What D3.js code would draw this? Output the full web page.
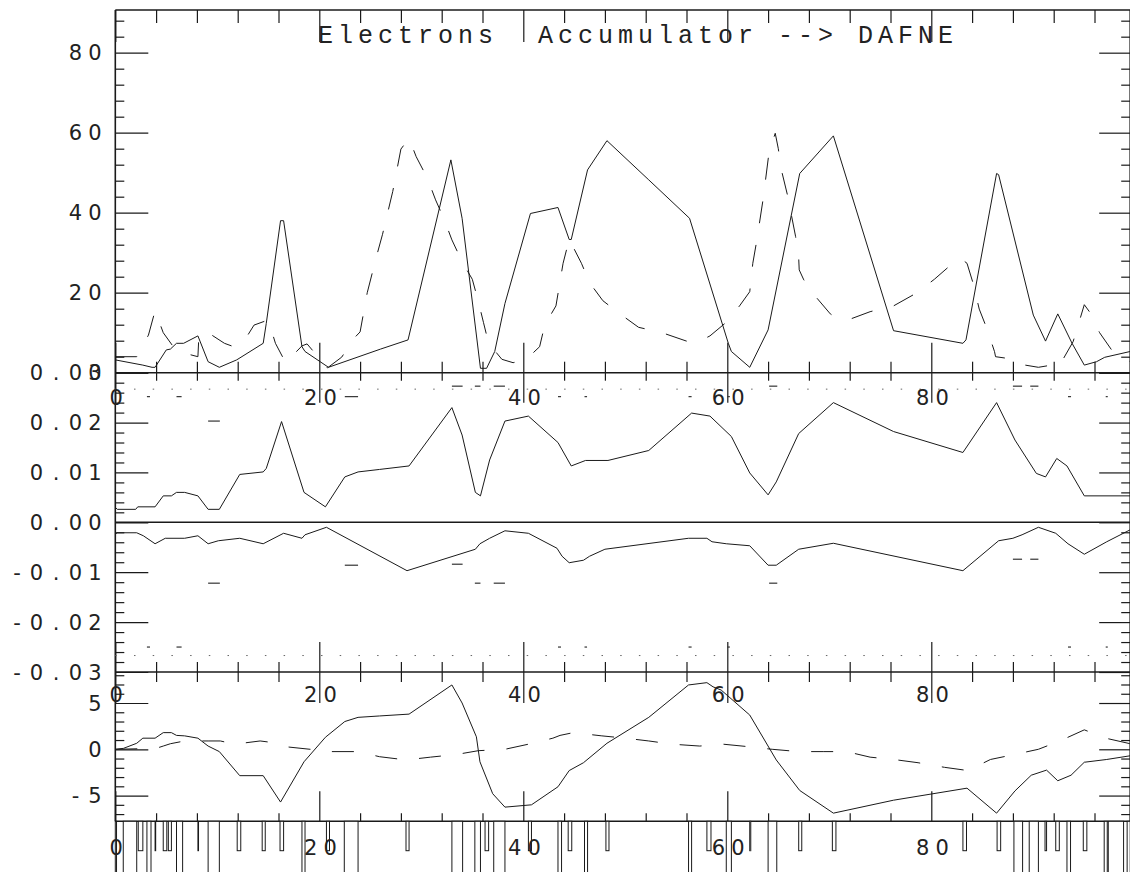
<!DOCTYPE html>
<html>
<head>
<meta charset="utf-8">
<script src="https://cdn.jsdelivr.net/npm/d3@7"></script>
<style>
body { margin: 0; background: #fff; }
svg { display: block; }
</style>
</head>
<body>
<div id="chart-area"></div>
<script>
/*
*    optics plot: Electrons Accumulator --> DAFNE
*/

// tick values and labels
var sMajor = [0, 20, 40, 60, 80];
var sLabels = ["0", "20", "40", "60", "80"];
var betaMajor = [0, 20, 40, 60, 80];
var betaLabels = ["0", "20", "40", "60", "80"];
var dxMajor = [0, 0.01, 0.02, 0.03];
var dxLabels = ["0.00", "0.01", "0.02", "0.03"];
var dyMajor = [-0.01, -0.02, -0.03];
var dyLabels = ["-0.01", "-0.02", "-0.03"];
var orbMajor = [-5, 0, 5];
var orbLabels = ["-5", "0", "5"];

// beta functions [s, value]
var betaX = [[0,3.2],[2.7,1.9],[3.6,1.35],[3.9,1.35],[5.0,5.7],[5.4,5.9],[6.0,7.35],[6.7,7.35],[8.1,9.2],[9.1,2.75],[10.2,1.35],[11.9,3.2],[14.5,7.35],[14.8,12.3],[16.2,38],[16.5,38],[18.3,6.5],[18.6,5.3],[20.9,1.35],[26.0,5.9],[28.7,8.2],[32.9,53.2],[34.0,38.6],[35.8,1.1],[36.4,1.1],[37.2,5.3],[38.2,17.3],[40.7,39.8],[43.4,41.3],[44.5,33.3],[44.7,33.3],[46.3,50.7],[48.2,58.0],[52.3,48.2],[56.3,38.6],[60.1,7.35],[60.4,5.3],[62.2,1.35],[64.0,10.7],[67.1,49.8],[70.4,59.2],[76.3,10.5],[83.1,7.35],[83.4,8.2],[86.4,49.8],[86.6,49.5],[90.0,14.4],[91.2,7.9],[92.4,14.7],[93.8,7.35],[95.0,1.9],[96.2,2.75],[97.0,3.85],[99.5,5.3]];
var betaY = [[0,4.0],[2.1,4.0],[3.25,9.4],[3.9,15.5],[4.7,10],[6.0,5.4],[8.1,4.0],[8.2,9.5],[9.1,10],[10.7,7.35],[11.5,6.6],[12.5,7.4],[13.6,11.9],[15.0,13.2],[15.7,7.35],[16.7,2.5],[18.3,6.7],[18.8,7.2],[20.8,1.2],[22.2,3.9],[23.4,8.6],[24.0,10.2],[24.7,20],[25.6,29],[26.2,34.6],[27.2,45.3],[28.0,55.9],[28.8,58.6],[29.5,54],[30.6,48.6],[31.4,43.2],[32.2,38.6],[33.0,33.2],[34.0,27.75],[35.0,23.35],[35.6,17.75],[36.1,12.5],[36.6,7.35],[37.9,3.35],[39.0,2.5],[40.3,3.35],[41.6,6.5],[42.1,11.9],[43.2,16.7],[43.9,27.35],[44.5,33.35],[45.7,27.35],[46.5,22.5],[47.8,18],[49.4,14.85],[51.3,11.35],[53.6,10],[56.0,7.9],[57.0,7.5],[58.3,9.2],[59.9,12.6],[61.2,16.7],[62.2,20.25],[62.5,27.35],[62.9,33.2],[63.5,43.2],[64.1,55.25],[64.7,59.85],[65.0,56],[65.3,50.7],[65.9,44.4],[66.7,34],[67.0,28.6],[67.05,25.7],[67.5,23.2],[68.8,18.6],[70.1,14.7],[71.0,13.2],[72.0,13.35],[74.0,15.25],[76.3,16.7],[78.5,19.85],[80.3,23.35],[82.1,27.35],[82.8,28.7],[83.5,27.35],[84.1,22.35],[84.7,15.9],[85.5,10.7],[86.2,5.25],[86.3,4.0],[88.1,3.35],[89.2,1.9],[90.5,1.35],[91.8,1.9],[92.5,1.5],[93.9,7.75],[94.4,11.9],[95.0,17],[95.5,15.25],[96.5,10],[97.8,5.25],[99.5,2.75]];

// dispersion
var dispX = [[0,0.0030],[0.2,0.0026],[2.0,0.0026],[2.2,0.0031],[3.9,0.0031],[4.7,0.0053],[5.5,0.0053],[6.0,0.0060],[6.8,0.0060],[8.1,0.0053],[9.1,0.0026],[10.2,0.0026],[12.2,0.0096],[14.5,0.0101],[14.8,0.0108],[16.3,0.0202],[18.5,0.0060],[20.6,0.0031],[22.5,0.0091],[23.8,0.0101],[25.9,0.0106],[28.8,0.0113],[33.0,0.0230],[34.0,0.0175],[35.3,0.0060],[35.8,0.0053],[36.7,0.0125],[38.2,0.0203],[40.5,0.0213],[43.4,0.0160],[44.7,0.0113],[46.1,0.0124],[48.3,0.0124],[52.3,0.0144],[56.5,0.0219],[58.3,0.0213],[60.4,0.0172],[62.2,0.0099],[64.0,0.0055],[64.8,0.0081],[67.0,0.0178],[70.4,0.0240],[76.3,0.0182],[83.1,0.0140],[86.4,0.0240],[88.2,0.0165],[90.3,0.0098],[91.2,0.0091],[92.3,0.0128],[93.3,0.0113],[95.0,0.0053],[99.5,0.0053]];
var dispY = [[0,-0.0025],[0.15,-0.0021],[2.1,-0.0021],[2.75,-0.0027],[3.9,-0.0043],[4.9,-0.0032],[6.8,-0.0032],[8.1,-0.0027],[9.1,-0.0043],[10.1,-0.0037],[12.2,-0.0032],[14.5,-0.0043],[16.5,-0.0022],[18.3,-0.0032],[18.6,-0.0025],[20.7,-0.0010],[28.6,-0.0097],[35.3,-0.0054],[35.75,-0.0043],[36.7,-0.0032],[38.2,-0.0017],[40.5,-0.0022],[43.3,-0.0052],[43.8,-0.0068],[44.5,-0.0081],[45.9,-0.0076],[46.5,-0.0068],[48.0,-0.0054],[56.2,-0.0032],[58.0,-0.0032],[58.5,-0.0039],[59.9,-0.0043],[62.2,-0.0047],[64.0,-0.0086],[64.8,-0.0086],[67.0,-0.0054],[70.4,-0.0042],[83.1,-0.0097],[86.6,-0.0037],[88.0,-0.0032],[88.9,-0.0025],[90.5,-0.0010],[92.2,-0.0022],[93.4,-0.0043],[95.0,-0.0064],[97.2,-0.0039],[99.5,-0.0015]];

// short dashed pieces inside elements [s0, s1, value]
var dispXPieces = [[3.1,3.4,0.0252],[6.0,6.5,0.0252],[9.1,10.25,0.0203],[22.5,23.8,0.0252],[33.0,34.05,0.0273],[35.25,35.8,0.0273],[37.1,38.2,0.0273],[43.4,43.7,0.0252],[46.0,46.25,0.0252],[56.2,56.5,0.0252],[60.0,60.25,0.0252],[64.1,64.9,0.0273],[88.0,88.9,0.0273],[89.7,90.5,0.0273],[93.4,93.7,0.0252],[97.1,97.3,0.0252]];
var dispYPieces = [[3.1,3.4,-0.025],[6.0,6.5,-0.025],[9.1,10.25,-0.0122],[22.5,23.8,-0.0086],[33.0,34.05,-0.0084],[35.25,35.8,-0.0122],[37.1,38.2,-0.0122],[43.4,43.7,-0.025],[46.0,46.25,-0.025],[56.2,56.5,-0.025],[60.0,60.25,-0.025],[64.1,64.9,-0.0122],[88.0,88.9,-0.0074],[89.7,90.5,-0.0074],[93.4,93.7,-0.025],[97.1,97.3,-0.025]];
var dottedLevels = [0.0267, -0.0267];

// orbit
var orbX = [[0,0],[0.8,0.1],[2.1,0.65],[2.7,1.2],[3.9,1.2],[4.7,1.8],[5.5,1.8],[6.0,1.5],[6.8,1.45],[8.1,1.2],[9.1,0.35],[10.2,-0.25],[12.2,-2.85],[14.5,-2.85],[16.2,-5.7],[18.5,-1.35],[20.6,1.3],[22.5,3.0],[23.8,3.45],[25.9,3.6],[28.8,3.8],[33.0,6.95],[34.0,5.0],[35.4,1.35],[35.75,-1.35],[37.0,-4.8],[38.2,-6.25],[40.8,-6.0],[43.4,-4.05],[44.5,-2.3],[45.9,-1.45],[48.2,0.65],[52.3,3.45],[56.2,6.95],[58.0,7.2],[58.6,6.75],[59.4,6.4],[62.2,3.7],[64.8,-1.15],[67.1,-4.45],[70.4,-6.9],[76.3,-5.5],[83.5,-4.2],[86.4,-6.9],[88.2,-4.5],[89.8,-2.8],[91.3,-2.25],[92.4,-3.4],[93.7,-2.8],[95.0,-1.4],[97.2,-1.1],[99.5,-0.7]];
var orbY = [[0,0],[4.0,0.1],[4.7,0.35],[5.4,0.6],[6.8,0.9],[9.1,0.9],[10.3,0.9],[11.7,0.55],[14.2,0.9],[16.0,0.65],[16.5,0.3],[19.1,0],[20.6,0],[21.0,-0.25],[23.8,-0.25],[25.9,-0.8],[28.5,-1.15],[30.9,-0.85],[33.5,-0.55],[35.6,-0.15],[38.2,0],[40.5,0.55],[42.9,1.2],[43.6,1.5],[44.9,1.8],[47.7,1.45],[50.0,1.2],[52.3,0.9],[54.6,0.55],[57.3,0.35],[59.6,0.55],[61.9,0.3],[64.4,0],[67.0,-0.25],[69.4,-0.25],[71.7,-0.25],[74.0,-0.85],[76.3,-1.1],[78.7,-1.45],[81.3,-1.95],[83.6,-2.3],[85.8,-1.1],[88.2,-0.55],[90.5,0],[92.6,0.9],[95.0,2.1],[97.1,1.2],[99.5,0.6]];

// lattice elements [s0, s1, kind]
var lattice = [[0,0.12,"long"],[0.78,2.1,"long"],[2.25,2.7,"short"],[3.1,3.5,"long"],[3.9,3.95,"short"],[4.7,5.05,"short"],[5.2,5.5,"short"],[6.0,6.6,"long"],[8.1,8.15,"short"],[9.1,10.2,"long"],[11.95,12.3,"short"],[14.4,14.7,"short"],[16.15,16.5,"short"],[18.3,18.6,"long"],[20.7,21.0,"short"],[22.45,23.8,"long"],[28.5,28.8,"short"],[33.0,34.05,"long"],[35.25,35.8,"long"],[36.25,36.6,"short"],[37.1,38.2,"long"],[40.5,40.8,"short"],[43.4,43.75,"long"],[44.4,44.75,"short"],[46.0,46.3,"long"],[48.1,48.4,"short"],[56.2,56.5,"long"],[58.0,58.4,"short"],[59.9,60.4,"long"],[62.2,62.3,"short"],[64.0,64.85,"long"],[67.0,67.3,"short"],[70.3,70.65,"short"],[83.1,83.45,"short"],[86.45,86.8,"short"],[88.1,88.95,"long"],[89.6,90.5,"long"],[91.15,91.3,"short"],[92.2,92.55,"short"],[93.3,93.65,"long"],[94.9,95.25,"short"],[96.95,97.25,"long"],[97.35,98.85,"long"],[99.2,99.5,"long"]];

var INK = "#1a1a1a";
var LABEL_FONT = "'DejaVu Sans', 'Liberation Sans', sans-serif";

var svg = d3.select("#chart-area").append("svg")
    .attr("width", 1130)
    .attr("height", 872);

var x = d3.scaleLinear().domain([0, 99.5]).range([115.3, 1130.2]);
var yBeta = d3.scaleLinear().domain([0, 90.67]).range([372.7, 10]);
var yDx = d3.scaleLinear().domain([0, 0.03]).range([522.3, 372.7]);
var yDy = d3.scaleLinear().domain([-0.03, 0]).range([672, 522.3]);
var yOrb = d3.scaleLinear().domain([-7.78, 8.35]).range([821.3, 672]);

function notIn(list) {
    return function(v) { return list.every(function(m) { return Math.abs(m - v) > 1e-9; }); };
}

var sMinor = d3.range(0, 100, 4).filter(notIn(sMajor));
var betaMinor = d3.range(0, 91, 4).filter(notIn(betaMajor));
var dxMinor = d3.range(0, 16).map(function(i) { return i * 0.002; }).filter(notIn(dxMajor));
var dyMinor = d3.range(1, 16).map(function(i) { return -i * 0.002; }).filter(notIn(dyMajor.concat([0])));
var orbMinor = d3.range(-7, 9).filter(notIn(orbMajor));

function addAxis(axis, tx, ty) {
    var g = svg.append("g").attr("transform", "translate(" + tx + "," + ty + ")").call(axis);
    g.select(".domain").remove();
    g.selectAll("line").attr("stroke", INK).attr("stroke-width", 1.2);
    return g;
}

// y-axis ticks on both sides, pointing inwards
function yTicks(scale, major, minor) {
    addAxis(d3.axisRight(scale).tickValues(major).tickSize(33).tickFormat(""), x.range()[0], 0);
    addAxis(d3.axisRight(scale).tickValues(minor).tickSize(9).tickFormat(""), x.range()[0], 0);
    addAxis(d3.axisLeft(scale).tickValues(major).tickSize(31).tickFormat(""), x.range()[1], 0);
    addAxis(d3.axisLeft(scale).tickValues(minor).tickSize(9).tickFormat(""), x.range()[1], 0);
}
yTicks(yBeta, betaMajor, betaMinor);
yTicks(yDx, dxMajor, dxMinor);
yTicks(yDy, dyMajor, dyMinor);
yTicks(yOrb, orbMajor, orbMinor);

// s-axis ticks
function sTicks(yPos, upMajor, upMinor, downMajor, downMinor) {
    addAxis(d3.axisTop(x).tickValues(sMajor).tickSize(upMajor).tickFormat(""), 0, yPos);
    addAxis(d3.axisTop(x).tickValues(sMinor).tickSize(upMinor).tickFormat(""), 0, yPos);
    if (downMajor) addAxis(d3.axisBottom(x).tickValues(sMajor).tickSize(downMajor).tickFormat(""), 0, yPos);
    if (downMinor) addAxis(d3.axisBottom(x).tickValues(sMinor).tickSize(downMinor).tickFormat(""), 0, yPos);
}
sTicks(yBeta.range()[0], 30, 11, 30, 8);
sTicks(yDy.range()[0], 30, 10, 31, 10);
sTicks(yOrb.range()[0], 30, 8, 0, 0);
addAxis(d3.axisBottom(x).tickValues(sMajor).tickSize(32).tickFormat(""), 0, 10);
addAxis(d3.axisBottom(x).tickValues(sMinor).tickSize(13).tickFormat(""), 0, 10);

// frame
var x0 = x.range()[0], x1 = x.range()[1];
[10, 372.7, 522.3, 672, 821.3].forEach(function(yy) {
    svg.append("line").attr("x1", x0).attr("x2", x1).attr("y1", yy).attr("y2", yy)
        .attr("stroke", INK).attr("stroke-width", 1.5);
});
svg.append("line").attr("x1", x0).attr("x2", x0).attr("y1", 10).attr("y2", 821.3)
    .attr("stroke", INK).attr("stroke-width", 1.6);
svg.append("line").attr("x1", x1).attr("x2", x1).attr("y1", 10).attr("y2", 821.3)
    .attr("stroke", INK).attr("stroke-width", 1.6);

// lattice
svg.selectAll("rect.elem").data(lattice).enter().append("rect")
    .attr("class", "elem")
    .attr("x", function(d) { return x(d[0]); })
    .attr("y", 821.3)
    .attr("width", function(d) { return Math.max(x(d[1]) - x(d[0]), 0.6); })
    .attr("height", function(d) { return d[2] === "long" ? 60 : 29.4; })
    .attr("fill", "#fff")
    .attr("stroke", INK)
    .attr("stroke-width", 1);

// curves
function drawCurve(data, y, dashed) {
    var line = d3.line().x(function(d) { return x(d[0]); }).y(function(d) { return y(d[1]); });
    svg.append("path").datum(data)
        .attr("d", line)
        .attr("fill", "none")
        .attr("stroke", INK)
        .attr("stroke-width", 1)
        .attr("stroke-dasharray", dashed ? "22,22" : null);
}
drawCurve(betaX, yBeta, false);
drawCurve(betaY, yBeta, true);
drawCurve(dispX, yDx, false);
drawCurve(dispY, yDy, false);
drawCurve(orbX, yOrb, false);
drawCurve(orbY, yOrb, true);

function drawPieces(data, y) {
    svg.selectAll(null).data(data).enter().append("line")
        .attr("x1", function(d) { return x(d[0]); })
        .attr("x2", function(d) { return x(d[1]); })
        .attr("y1", function(d) { return y(d[2]); })
        .attr("y2", function(d) { return y(d[2]); })
        .attr("stroke", "#333")
        .attr("stroke-width", 1.2);
}
drawPieces(dispXPieces, yDx);
drawPieces(dispYPieces, yDy);

svg.append("line").attr("x1", x0).attr("x2", x1)
    .attr("y1", yDx(dottedLevels[0])).attr("y2", yDx(dottedLevels[0]))
    .attr("stroke", "#666").attr("stroke-width", 1).attr("stroke-dasharray", "1.5,17.2");
svg.append("line").attr("x1", x0).attr("x2", x1)
    .attr("y1", yDy(dottedLevels[1])).attr("y2", yDy(dottedLevels[1]))
    .attr("stroke", "#666").attr("stroke-width", 1).attr("stroke-dasharray", "1.5,17.2");

// labels with evenly spaced characters
function spacedLabel(str, xPos, yCenter, pitch, anchor) {
    var n = str.length;
    var start = anchor === "middle" ? xPos - (n - 1) * pitch / 2 : xPos - (n - 1) * pitch;
    var xs = d3.range(n).map(function(i) { return (start + i * pitch).toFixed(1); });
    svg.append("text")
        .attr("x", xs.join(" "))
        .attr("y", yCenter + 7.6)
        .attr("text-anchor", "middle")
        .attr("font-family", LABEL_FONT)
        .attr("font-size", 21)
        .attr("fill", "#222")
        .text(str);
}

betaMajor.forEach(function(v, i) { spacedLabel(betaLabels[i], 95, yBeta(v), 19.5, "end"); });
dxMajor.forEach(function(v, i) { spacedLabel(dxLabels[i], 95, yDx(v), 19.5, "end"); });
dyMajor.forEach(function(v, i) { spacedLabel(dyLabels[i], 95, yDy(v), 19.5, "end"); });
orbMajor.forEach(function(v, i) { spacedLabel(orbLabels[i], 95, yOrb(v), 19.5, "end"); });

[[372.7, 24.3], [672, 22.2], [821.3, 26.5]].forEach(function(p) {
    sMajor.forEach(function(v, i) { spacedLabel(sLabels[i], x(v) + 1, p[0] + p[1], 19.5, "middle"); });
});

// title
var title = svg.append("g")
    .attr("font-family", "'Liberation Mono', 'Courier New', monospace")
    .attr("font-size", 25)
    .attr("letter-spacing", 5)
    .attr("fill", "#222");
title.append("text").attr("x", 318).attr("y", 42.7).text("Electrons");
title.append("text").attr("x", 538).attr("y", 42.7).text("Accumulator --> DAFNE");
</script>
</body>
</html>
